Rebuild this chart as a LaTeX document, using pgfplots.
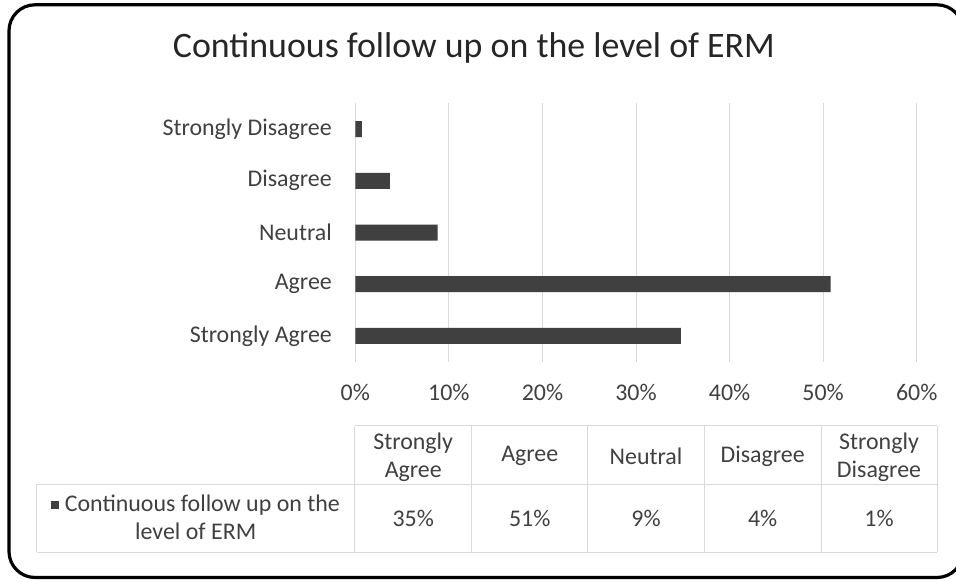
\documentclass[border=0pt]{standalone}
\usepackage{pgfplots}
\pgfplotsset{compat=1.18}
\usepackage{fontspec}
\setmainfont{Carlito}
\definecolor{barcol}{HTML}{404040}
\definecolor{txt}{HTML}{404040}
\definecolor{gridc}{HTML}{D9D9D9}
\newcommand{\fs}{\fontsize{24}{28.5}\selectfont}
\begin{document}
\begin{tikzpicture}[x=1bp,y=1bp]
\path[use as bounding box] (0,0) rectangle (956,-582);
\clip (0,0) rectangle (956,-582);
\fill[white] (0,0) rectangle (956,-582);
\draw[line width=3.2bp, rounded corners=26bp] (9,-4.8) rectangle (963,-577.5);
\node[text=black!85] at (474,-48) {\fontsize{36}{42}\selectfont Continuous follow up on the level of ERM};

\begin{axis}[
  at={(355.3bp,-361.7bp)}, anchor=south west,
  scale only axis,
  width=561.4bp, height=258.4bp,
  xbar, bar width=16bp,
  xmin=0, xmax=60,
  ymin=-0.5, ymax=4.5,
  xtick={0,10,...,60},
  xticklabel={\pgfmathprintnumber{\tick}\%},
  ytick={0,1,2,3,4},
  yticklabels={Strongly Agree,Agree,Neutral,Disagree,Strongly Disagree},
  xmajorgrids=true,
  grid style={gridc, line width=1bp},
  axis line style={draw=none},
  major tick length=0pt,
  tick label style={font=\fs, text=txt},
  xticklabel style={yshift=-19bp},
  yticklabel style={xshift=-20bp},
  /pgf/number format/assume math mode=true,
  clip=false,
]
\addplot[fill=barcol, draw=none] coordinates {
  (34.8,0) (50.8,1) (8.8,2) (3.7,3) (0.7,4)
};
\end{axis}

% data table
\begin{scope}[gridc, line width=1bp]
\draw (354.7,-425.7) -- (937,-425.7);
\draw (36.7,-484) -- (937,-484);
\draw (36.7,-552.3) -- (937,-552.3);
\draw (36.7,-484) -- (36.7,-552.3);
\foreach \xx in {354.7,471.7,587.7,704.3,821,937}
  \draw (\xx,-425.7) -- (\xx,-552.3);
\end{scope}
\begin{scope}[every node/.style={text=txt, font=\fs, align=center}]
\node at (413.2,-457) {Strongly\\Agree};
\node at (529.7,-456) {Agree};
\node at (646,-456) {Neutral};
\node at (762.7,-456) {Disagree};
\node at (879,-457) {Strongly\\Disagree};
\node at (413.2,-518) {35\%};
\node at (529.7,-518) {51\%};
\node at (646,-518) {9\%};
\node at (762.7,-518) {4\%};
\node at (879,-518) {1\%};
\node at (195.7,-517) {{\color{barcol}\rule[2bp]{8bp}{8bp}}\ Continuous follow up on the\\level of ERM};
\end{scope}
\end{tikzpicture}
\end{document}
